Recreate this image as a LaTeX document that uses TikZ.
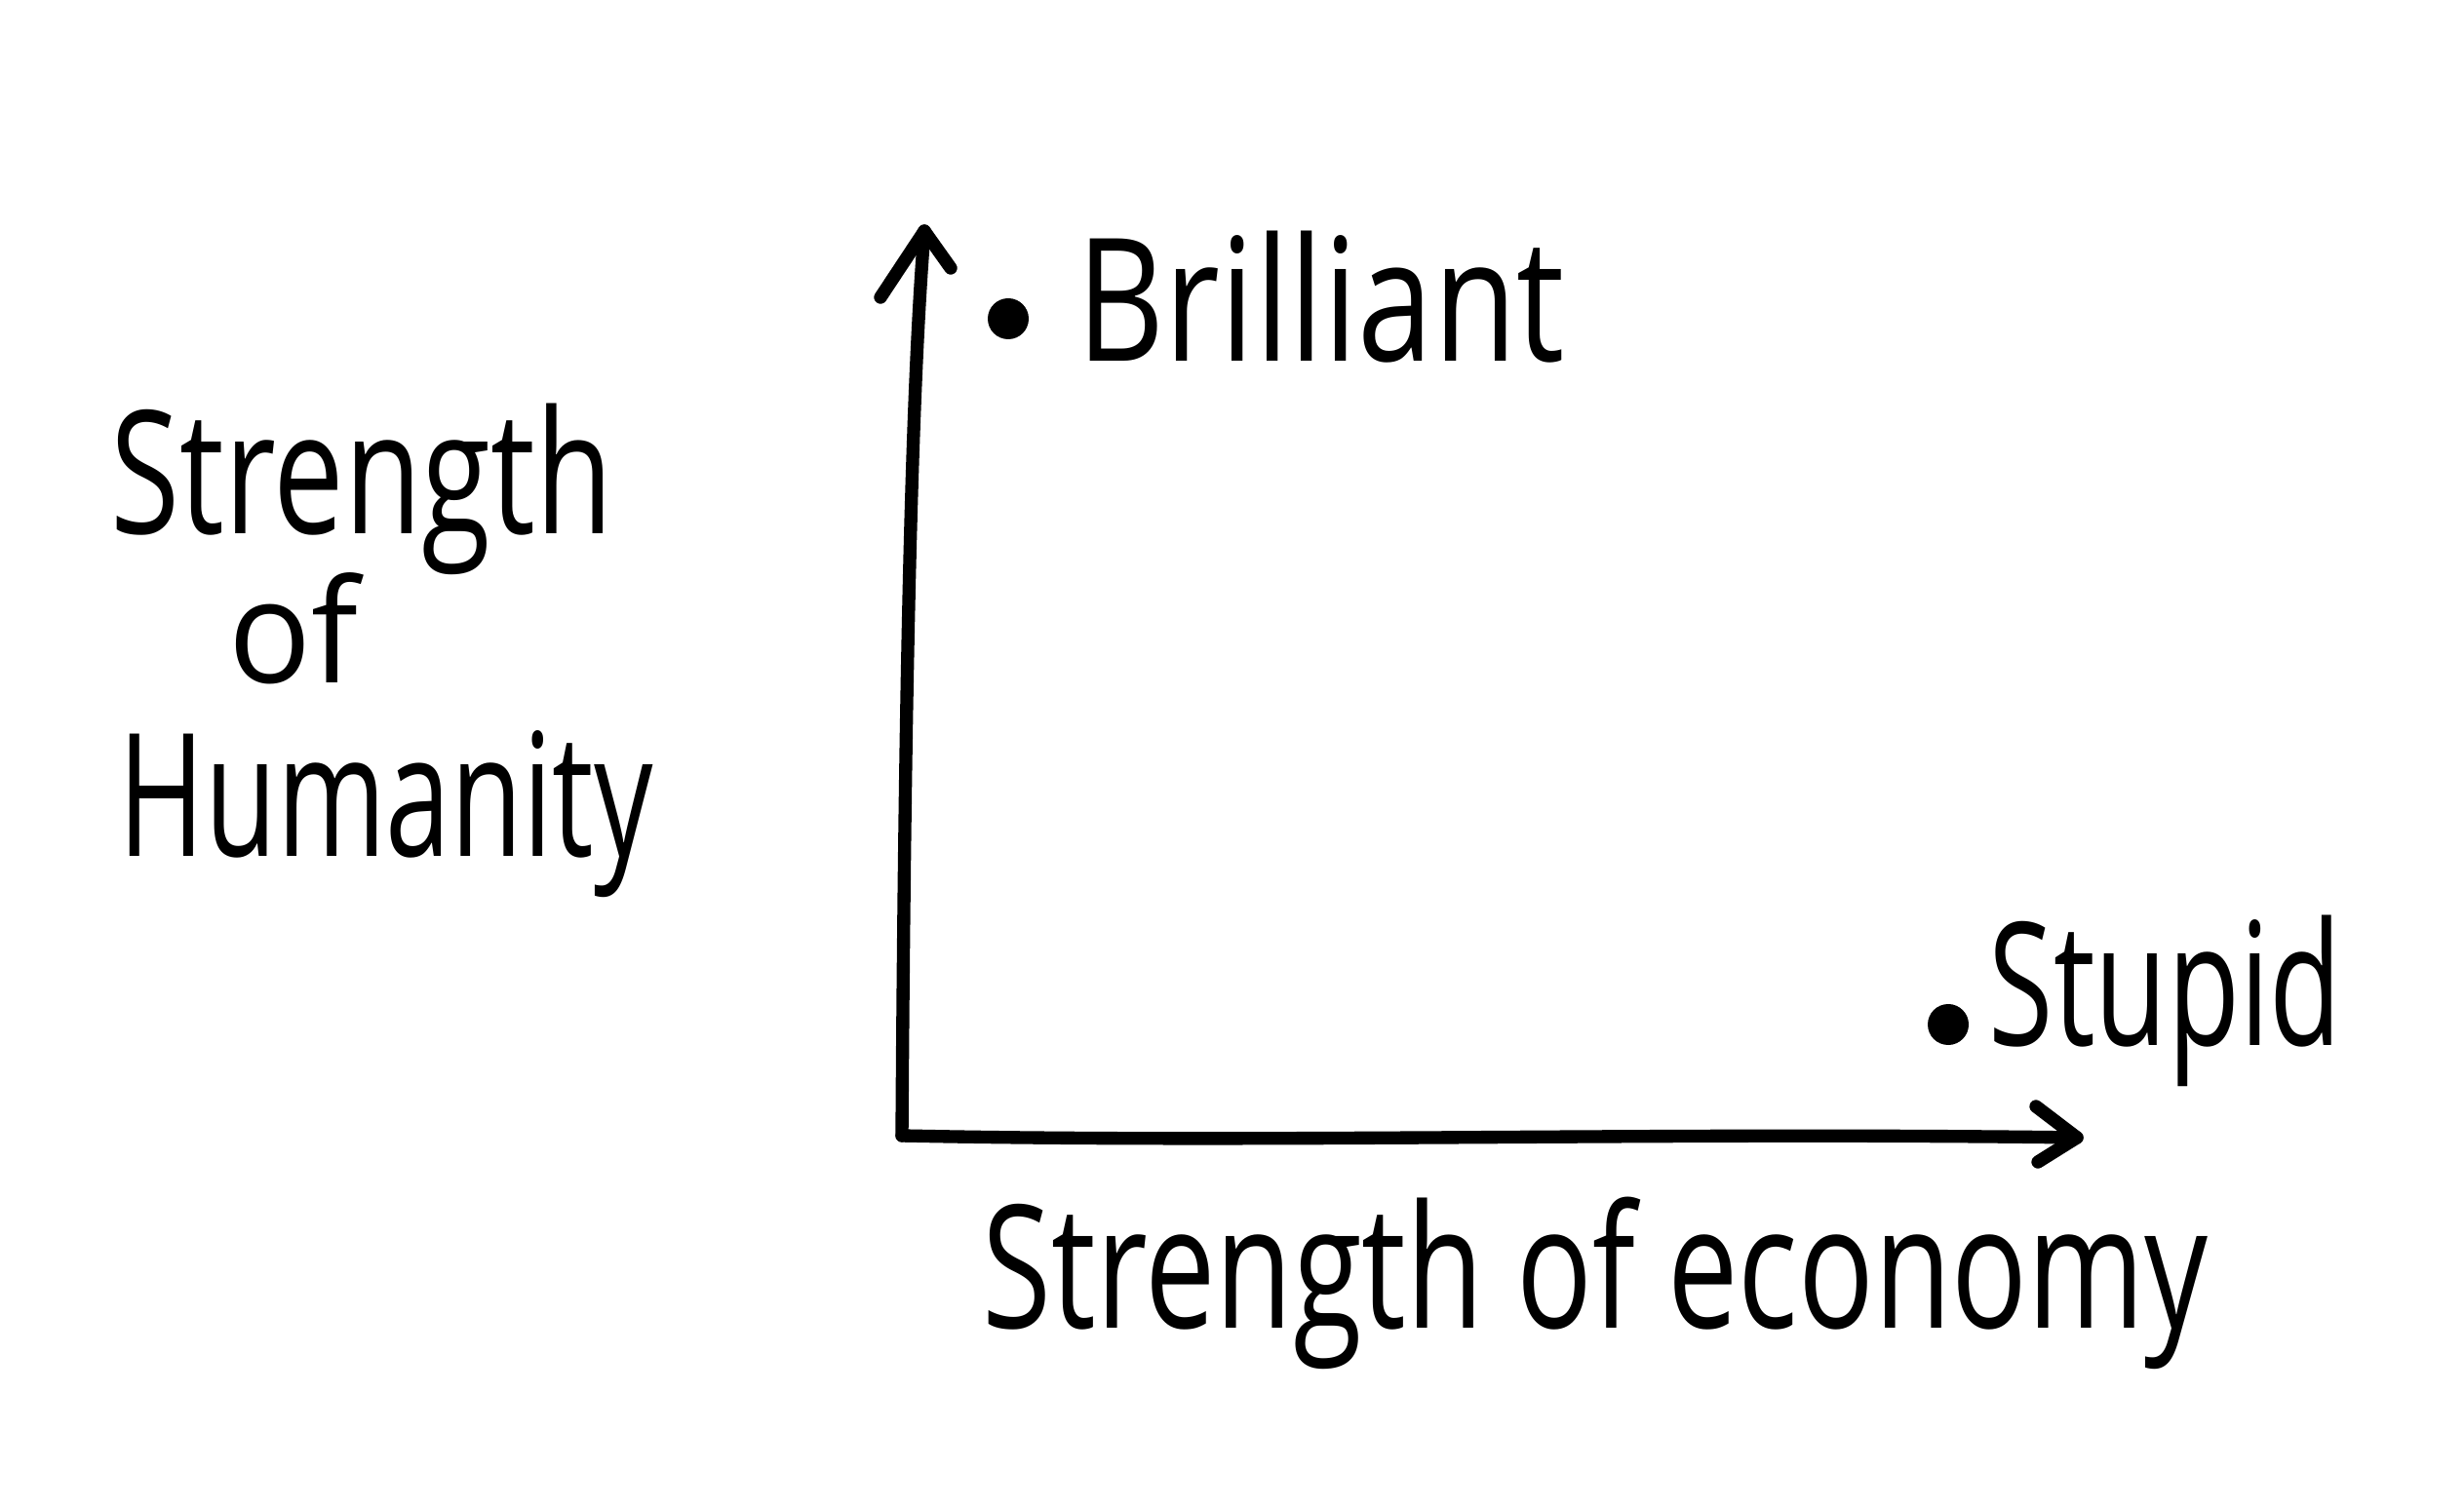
\documentclass[tikz,border=0pt]{standalone}
\usepackage{fontspec}
\usepackage{graphicx}
\setmainfont{Open Sans}
\tikzset{
  ink/.style={line width=3.8pt, line cap=round, line join=round, black},
  lbl/.style={anchor=base west, inner sep=0pt, font=\fontsize{50}{60}\selectfont},
  dotmark/.style={circle, fill=black, inner sep=0pt, minimum size=0.42cm}
}
\newcommand{\fitw}[2]{\resizebox{#1}{\height}{#2}}
\begin{document}
\begin{tikzpicture}
\useasboundingbox (0,0) rectangle (25.27,15.47);
\fill[white] (0,0) rectangle (25.27,15.47);
% axes
\coordinate (origin) at (9.25,3.82);
\coordinate (ytip) at (9.48,13.10);
\coordinate (yarmL) at (9.03,12.42);
\coordinate (yarmR) at (9.75,12.72);
\coordinate (xtip) at (21.30,3.80);
\coordinate (xarmU) at (20.88,4.12);
\coordinate (xarmD) at (20.90,3.55);
\draw[ink] (origin) .. controls (9.28,8.5) and (9.35,11.5) .. (ytip);
\draw[ink] (yarmL) -- (ytip) -- (yarmR);
\draw[ink] (origin) .. controls (13,3.74) and (17,3.86) .. (xtip);
\draw[ink] (xarmU) -- (xtip) -- (xarmD);
% points
\node[dotmark] (bdot) at (10.34,12.20) {};
\node[dotmark] (sdot) at (19.98,4.96) {};
% labels
\node[lbl] (brilliant) at (11.04,11.76) {\fitw{5.0cm}{Brilliant}};
\node[lbl] (stupid) at (20.39,4.75) {\fitw{3.62cm}{Stupid}};
\node[lbl] (yl1) at (1.13,9.99) {\fitw{5.15cm}{Strength}};
\node[lbl, font=\fontsize{42}{50}\selectfont] (yl2) at (2.34,8.46) {\fitw{1.33cm}{of}};
\node[lbl] (yl3) at (1.21,6.69) {\fitw{5.48cm}{Humanity}};
\node[lbl] (xl) at (10.07,1.85) {\fitw{12.57cm}{Strength of economy}};
\end{tikzpicture}
\end{document}
